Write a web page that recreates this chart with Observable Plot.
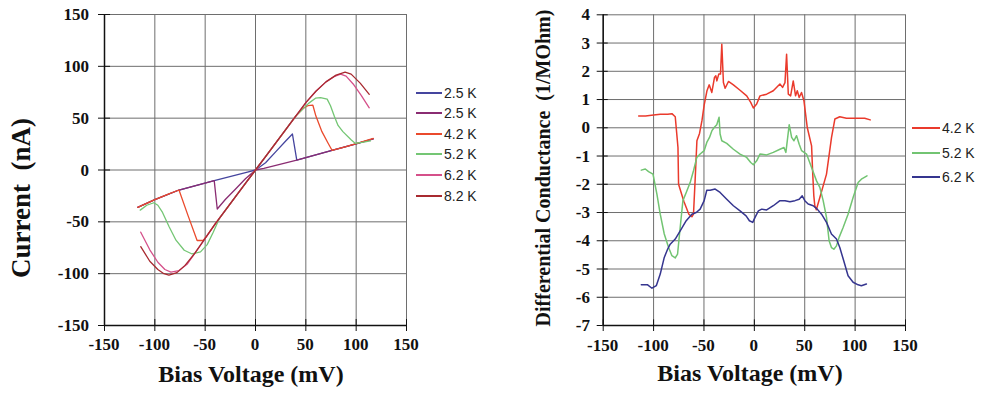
<!DOCTYPE html>
<html><head><meta charset="utf-8">
<script src="https://cdn.jsdelivr.net/npm/d3@7"></script>
<script src="https://cdn.jsdelivr.net/npm/@observablehq/plot@0.6"></script>
<style>
body{margin:0;background:#fff;}
#wrap{position:relative;width:984px;height:397px;overflow:hidden;background:#fff;}
#left,#right{position:absolute;top:0;}
#left{left:0;} #right{left:500px;}
.ytitle{position:absolute;font-family:"Liberation Serif";font-weight:bold;white-space:pre;line-height:1;color:#111;transform:translate(-50%,-50%) rotate(-90deg);}
.xtitle{position:absolute;font-family:"Liberation Serif";font-weight:bold;white-space:pre;line-height:1;color:#111;transform:translate(-50%,-50%);}
.tl{position:absolute;font-family:"Liberation Serif";font-weight:bold;font-size:17px;line-height:1;white-space:pre;color:#111;}
.tlx{transform:translate(-50%,-50%);}
.tly{transform:translate(-100%,-50%);}
.legend{position:absolute;font-family:"Liberation Sans";font-size:14px;color:#222;}
.legend .row{display:flex;align-items:center;}
.legend .sw{display:inline-block;width:26px;height:2px;margin-right:2px;}
</style></head>
<body>
<div id="wrap">
  <div id="left"></div>
  <div id="right"></div>
</div>
<script>
// ---------- data ----------
const xTicks = [-150, -100, -50, 0, 50, 100, 150];
const yTicksIV = [-150, -100, -50, 0, 50, 100, 150];
const yTicksG = [-7, -6, -5, -4, -3, -2, -1, 0, 1, 2, 3, 4];

const ivLabels = ["2.5 K", "2.5 K", "4.2 K", "5.2 K", "6.2 K", "8.2 K"];
const ivColors = ["#45459e", "#8a2c72", "#ea4a2c", "#74c674", "#d5508a", "#a82a30"];

const iv25a = [[-117,-36],[-100,-28.5],[-76,-19.3],[-41,-10.3],[-8,-2],[0,0],[10,7],[20,17.5],[30,28],[36.7,34.7],[41,9.6],[76,19],[99,25],[117,30]];
const iv25b = [[117,30],[99,25],[76,19],[41,9.6],[8.3,1.6],[0,0],[-10,-8.5],[-20,-18.5],[-30,-28.5],[-38,-37.6],[-41,-10.3],[-76,-19.3],[-100,-28.5],[-117,-36]];
const iv42 = [[-117,-36],[-100,-28.5],[-86,-23],[-76,-19.3],[-67,-44],[-58,-68],[-52,-68],[-48,-63],[-40,-52],[-30,-39],[-20,-26],[-10,-13],[0,0],[10,13],[20,26],[30,39],[40,52],[48,60],[52,62],[57,62.5],[60,52],[66,37],[72,26],[76,19],[90,22.5],[100,25.5],[117,30.5]];
const iv52 = [[-114.5,-38.7],[-108,-34],[-101,-31.6],[-97,-34],[-92.7,-40.3],[-85.8,-54.8],[-79,-67.7],[-70.8,-77.4],[-63,-81],[-54.6,-79],[-48,-72],[-42,-60],[-36,-47],[-30,-39],[-20,-26],[-10,-13],[0,0],[10,13],[20,26],[30,39],[40,52],[53,64.5],[59.6,69.3],[64.6,69.9],[71.2,68.4],[74.5,62],[78.4,51.6],[82,43],[86.8,37],[95.2,29],[99,25.8],[106,26.6],[114.2,28]];
const iv62 = [[-114,-60],[-105,-77],[-97,-89],[-90,-96],[-84,-98.5],[-76,-97],[-68,-91],[-60,-80],[-50,-66],[-40,-52],[-30,-39],[-20,-26],[-10,-13],[0,0],[10,13],[20,26],[30,39],[40,52],[50,65],[60,76],[70,85],[78,90],[84.5,92.5],[90,90.5],[97,83],[105,72],[113,60]];
const iv82 = [[-114,-74],[-105,-88],[-97,-96],[-91,-100],[-86,-101.5],[-78,-99],[-70,-92],[-60,-80],[-50,-66],[-40,-52],[-30,-39],[-20,-26],[-10,-13],[0,0],[10,13],[20,26],[30,39],[40,52],[50,65],[60,76],[70,85],[80,91.5],[89,94.5],[95,92.5],[104,83.8],[113,73]];
const ivSeries = [iv25a, iv25b, iv42, iv52, iv62, iv82];

const gLabels = ["4.2 K", "5.2 K", "6.2 K"];
const gColors = ["#ea3a2c", "#72c472", "#35358f"];
const g42 = [[-114.8,0.42],[-108,0.42],[-100,0.45],[-93.3,0.48],[-86,0.48],[-81.8,0.5],[-78.5,0.39],[-75.8,-0.7],[-75.2,-2.0],[-70,-2.6],[-65,-3.06],[-62,-3.15],[-60.4,-3.06],[-58.7,-1.8],[-57,-0.46],[-54.4,-0.2],[-52,0.25],[-49.8,0.8],[-47.1,1.3],[-44.8,1.52],[-42.2,1.25],[-39.6,1.78],[-38.2,1.84],[-37.2,1.66],[-35.3,1.9],[-33.6,1.9],[-32.3,2.96],[-30.7,1.6],[-29,1.4],[-25.7,1.64],[-20.8,1.52],[-14.2,1.33],[-7.6,1.13],[-3.6,0.9],[-1,0.7],[2.3,0.84],[5.6,1.13],[12.2,1.19],[18.8,1.31],[25.4,1.55],[28,1.43],[30.4,1.6],[32,2.6],[33.7,1.19],[36,1.13],[38.6,1.66],[40.9,1.13],[42.6,1.31],[44.5,1.07],[46.8,1.25],[49.2,0.96],[52.5,0.01],[56.8,-0.64],[57.8,-1.52],[59,-2.4],[60,-2.76],[61.5,-2.9],[65,-2.47],[71.6,-1.64],[76.6,-0.34],[79.9,0.31],[84.8,0.39],[91.4,0.34],[101,0.34],[109.5,0.34],[115,0.28]];
const g52 = [[-112.2,-1.5],[-108.2,-1.46],[-105,-1.55],[-100.6,-1.64],[-96.7,-2.35],[-93.4,-3.06],[-89.4,-3.76],[-85.1,-4.24],[-81.8,-4.53],[-78.5,-4.61],[-76.2,-4.47],[-73.6,-3.53],[-70.9,-2.58],[-67.6,-2.29],[-63.7,-1.94],[-60.4,-1.52],[-57.1,-1.05],[-53.8,-0.93],[-49.8,-0.81],[-47.2,-0.52],[-44.5,-0.34],[-42.2,-0.11],[-39.9,0.01],[-37.3,0.11],[-35,0.37],[-34,-0.22],[-32.3,-0.46],[-27.4,-0.55],[-20.8,-0.76],[-14.2,-0.93],[-7.6,-1.05],[-3.6,-1.23],[-1,-1.31],[2.3,-1.17],[5.6,-0.93],[12.2,-0.96],[18.8,-0.87],[25.4,-0.76],[29.4,-0.7],[31.3,-0.87],[34.6,0.11],[37,-0.34],[39.3,-0.46],[41.9,-0.28],[44.5,-0.58],[46.9,-0.81],[51.8,-0.93],[56.7,-1.4],[61.7,-1.88],[65,-2.11],[68.3,-2.58],[71.6,-3.17],[74.2,-4.0],[76.5,-4.24],[78.9,-4.3],[81.5,-4.18],[84.1,-3.88],[88.1,-3.53],[93,-3.06],[98,-2.47],[103,-1.94],[106.2,-1.82],[111.8,-1.7]];
const g62 = [[-112.2,-5.56],[-105.9,-5.56],[-101.6,-5.68],[-97.3,-5.59],[-93.4,-5.18],[-89.4,-4.59],[-86.1,-4.3],[-83.5,-4.12],[-78.5,-3.94],[-73.6,-3.65],[-67.6,-3.29],[-62,-3.06],[-57.7,-3.0],[-53.8,-2.88],[-49.8,-2.58],[-47.2,-2.21],[-43.9,-2.21],[-38.9,-2.17],[-34,-2.29],[-27.4,-2.53],[-20.8,-2.76],[-14.2,-2.94],[-8.2,-3.12],[-4.9,-3.29],[-1.6,-3.35],[0.7,-3.17],[4,-2.94],[7.3,-2.88],[12.2,-2.91],[18.8,-2.76],[25.4,-2.58],[30.4,-2.58],[35.3,-2.62],[40.3,-2.58],[44.5,-2.53],[47.5,-2.41],[50.1,-2.58],[53.4,-2.7],[58.4,-2.76],[62.4,-2.88],[66.7,-3.06],[71.6,-3.35],[76.5,-3.76],[81.5,-3.94],[84.8,-4.24],[88.7,-4.71],[93,-5.24],[98,-5.47],[103,-5.56],[106.2,-5.59],[111.2,-5.53]];
const gSeries = [g42, g52, g62];

// ---------- helpers ----------
const blank = () => "";
function frameMarks(yTicks, yDomain, inX, inY) {
  return [
    Plot.gridX(xTicks, {stroke: "#6e6e6e", strokeOpacity: 1, strokeWidth: 1}),
    Plot.gridY(yTicks, {stroke: "#6e6e6e", strokeOpacity: 1, strokeWidth: 1}),
    Plot.ruleX([xTicks[0]], {stroke: "#111", strokeWidth: 1.5}),
    Plot.ruleY([yDomain[0]], {stroke: "#111", strokeWidth: 1.5}),
    Plot.ruleX(xTicks, {y1: yDomain[0], y2: yDomain[0] + inY, stroke: "#111"}),
    Plot.ruleY(yTicks, {x1: xTicks[0], x2: xTicks[0] + inX, stroke: "#111"}),
    Plot.axisX(xTicks, {tickSize: 6, tickFormat: blank, label: null, color: "#111"}),
    Plot.axisY(yTicks, {tickSize: 6, tickFormat: blank, label: null, color: "#111"})
  ];
}
function lineMarks(series, colors, w) {
  return series.map((s, i) => Plot.line(s, {x: d => d[0], y: d => d[1], stroke: colors[i], strokeWidth: w}));
}

// ---------- left chart ----------
const left = Plot.plot({
  width: 420, height: 397,
  marginLeft: 104, marginRight: 14, marginTop: 14, marginBottom: 72,
  x: {domain: [-150, 150]},
  y: {domain: [-150, 150]},
  style: {background: "transparent", overflow: "visible"},
  marks: [...frameMarks(yTicksIV, [-150, 150], 6, 5.8), ...lineMarks(ivSeries, ivColors, 1.3)]
});
document.getElementById("left").append(left);

// ---------- right chart ----------
const right = Plot.plot({
  width: 420, height: 397,
  marginLeft: 102.7, marginRight: 15, marginTop: 14.3, marginBottom: 72,
  x: {domain: [-150, 150]},
  y: {domain: [-7, 4]},
  style: {background: "transparent", overflow: "visible"},
  marks: [...frameMarks(yTicksG, [-7, 4], 5, 0.2), ...lineMarks(gSeries, gColors, 1.5)]
});
document.getElementById("right").append(right);

// ---------- tick labels (HTML text placed with the plots' own scales) ----------
const wrap = document.getElementById("wrap");
function tickLabels(chart, offsetX, yTicks, xLabelTop, yLabelRight) {
  const sx = chart.scale("x"), sy = chart.scale("y");
  for (const v of xTicks) {
    const d = document.createElement("div");
    d.className = "tl tlx"; d.textContent = String(v);
    d.style.left = (offsetX + sx.apply(v)) + "px"; d.style.top = xLabelTop + "px";
    wrap.append(d);
  }
  for (const v of yTicks) {
    const d = document.createElement("div");
    d.className = "tl tly"; d.textContent = String(v);
    d.style.left = yLabelRight + "px"; d.style.top = sy.apply(v) + "px";
    wrap.append(d);
  }
}
tickLabels(left, 0, yTicksIV, 344, 89);
tickLabels(right, 500, yTicksG, 345, 590);

// ---------- titles & legends ----------
function addText(cls, text, x, y, size) {
  const d = document.createElement("div");
  d.className = cls; d.textContent = text;
  d.style.left = x + "px"; d.style.top = y + "px"; d.style.fontSize = size + "px";
  wrap.append(d);
}
addText("ytitle", "Current  (nA)", 21, 198, 27);
addText("xtitle", "Bias Voltage (mV)", 251, 374, 24);
addText("ytitle", "Differential Conductance  (1/MOhm)", 543, 168, 20);
addText("xtitle", "Bias Voltage (mV)", 750, 373, 24);

function addLegend(labels, colors, x, y, rowH, swW) {
  const lg = document.createElement("div");
  lg.className = "legend"; lg.style.left = x + "px"; lg.style.top = y + "px";
  labels.forEach((t, i) => {
    const r = document.createElement("div"); r.className = "row"; r.style.height = rowH + "px";
    const sw = document.createElement("span"); sw.className = "sw"; sw.style.background = colors[i]; sw.style.width = swW + "px";
    const tx = document.createElement("span"); tx.textContent = t;
    r.append(sw, tx); lg.append(r);
  });
  wrap.append(lg);
}
addLegend(ivLabels, ivColors, 416, 82.4, 20.6, 26);
addLegend(gLabels, gColors, 912, 115.8, 24.5, 28);
</script>
</body></html>
